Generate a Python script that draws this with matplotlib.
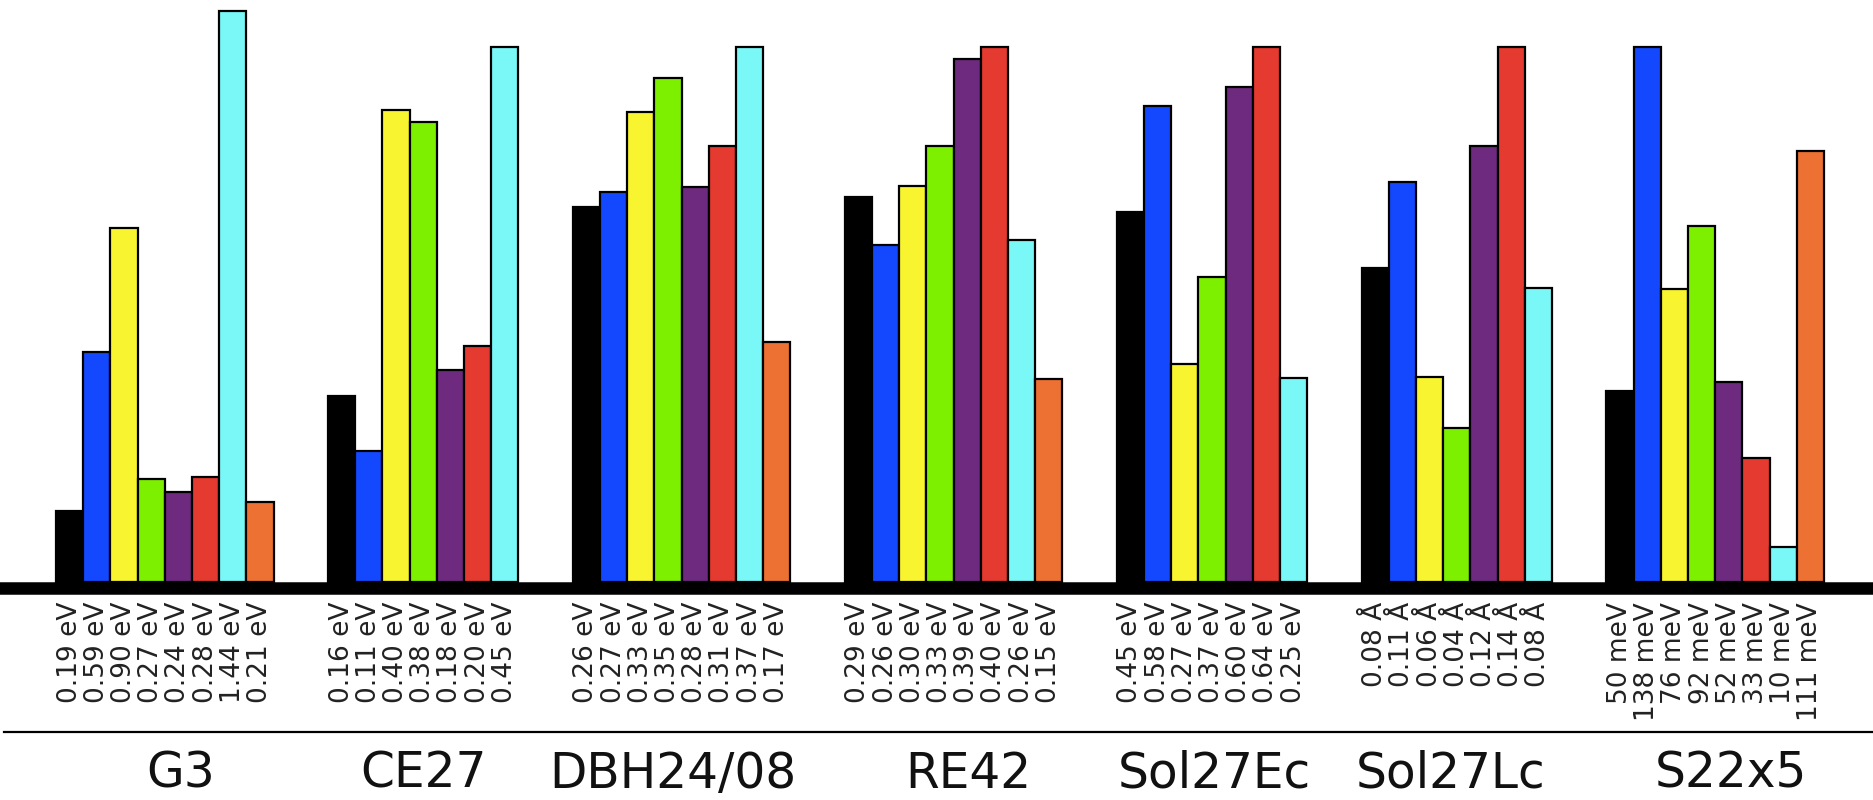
import matplotlib
matplotlib.use("Agg")
from matplotlib import pyplot as plt

# benchmark sets
groups = ['G3', 'CE27', 'DBH24/08', 'RE42', 'Sol27Ec', 'Sol27Lc', 'S22x5']

# bar labels (errors as printed under each bar)
labels = [
    ['0.19 eV', '0.59 eV', '0.90 eV', '0.27 eV', '0.24 eV', '0.28 eV', '1.44 eV', '0.21 eV'],
    ['0.16 eV', '0.11 eV', '0.40 eV', '0.38 eV', '0.18 eV', '0.20 eV', '0.45 eV'],
    ['0.26 eV', '0.27 eV', '0.33 eV', '0.35 eV', '0.28 eV', '0.31 eV', '0.37 eV', '0.17 eV'],
    ['0.29 eV', '0.26 eV', '0.30 eV', '0.33 eV', '0.39 eV', '0.40 eV', '0.26 eV', '0.15 eV'],
    ['0.45 eV', '0.58 eV', '0.27 eV', '0.37 eV', '0.60 eV', '0.64 eV', '0.25 eV'],
    ['0.08 Å', '0.11 Å', '0.06 Å', '0.04 Å', '0.12 Å', '0.14 Å', '0.08 Å'],
    ['50 meV', '138 meV', '76 meV', '92 meV', '52 meV', '33 meV', '10 meV', '111 meV'],
]

# relative bar heights (largest bar of a set ~ 1)
heights = [
    [0.133, 0.430, 0.661, 0.192, 0.168, 0.196, 1.068, 0.150],
    [0.348, 0.245, 0.883, 0.860, 0.397, 0.442, 1.000],
    [0.701, 0.729, 0.879, 0.942, 0.738, 0.815, 1.000, 0.449],
    [0.720, 0.629, 0.741, 0.815, 0.977, 1.000, 0.640, 0.379],
    [0.692, 0.890, 0.407, 0.570, 0.925, 1.000, 0.381],
    [0.586, 0.748, 0.383, 0.287, 0.815, 1.000, 0.549],
    [0.357, 1.000, 0.547, 0.666, 0.374, 0.231, 0.065, 0.806],
]

colors = ['#000000', '#1448ff', '#f9f430', '#7df000', '#6e2a7e',
          '#e53a2f', '#7af8f8', '#ec7132']

# small shifts of the set names (in bar widths)
name_shift = [0.6, 0.0, -0.33, 0.55, 0.07, -0.22, 0.59]

W, H = 1874, 800
slot = 27.2          # bar width in pixels
x0 = 56              # left edge of first bar
base = 582           # baseline (pixels from top)
unit = 535           # pixels for relative height 1

fig = plt.figure(figsize=(W / 100, H / 100), dpi=100)
ax = fig.add_axes([0, 0, 1, 1])
ax.set_xlim(-x0 / slot, (W - x0) / slot)
ax.set_ylim(-(H - base) / unit, base / unit)
ax.axis('off')

start = 0
for g, name in enumerate(groups):
    n = len(heights[g])
    xs = [start + i for i in range(n)]
    ax.bar(xs, heights[g], width=1.0, align='edge', color=colors[:n],
           edgecolor='black', linewidth=1.6, zorder=2)
    for x, lab in zip(xs, labels[g]):
        ax.text(x + 0.5, -20 / unit, lab, rotation=90, ha='center', va='top',
                fontsize=19, color='#222222')
    ax.text(start + n / 2 + name_shift[g], -192 / unit, name, ha='center',
            va='center', fontsize=35, color='#111111')
    start += n + 2

# thick baseline and thin separator line
ax.axhline(-6 / unit, xmin=4 / W, xmax=1, color='black', linewidth=9, zorder=3)
ax.axhline(-150 / unit, xmin=4 / W, xmax=1, color='black', linewidth=1.6)

plt.savefig('out.png', dpi=100)
